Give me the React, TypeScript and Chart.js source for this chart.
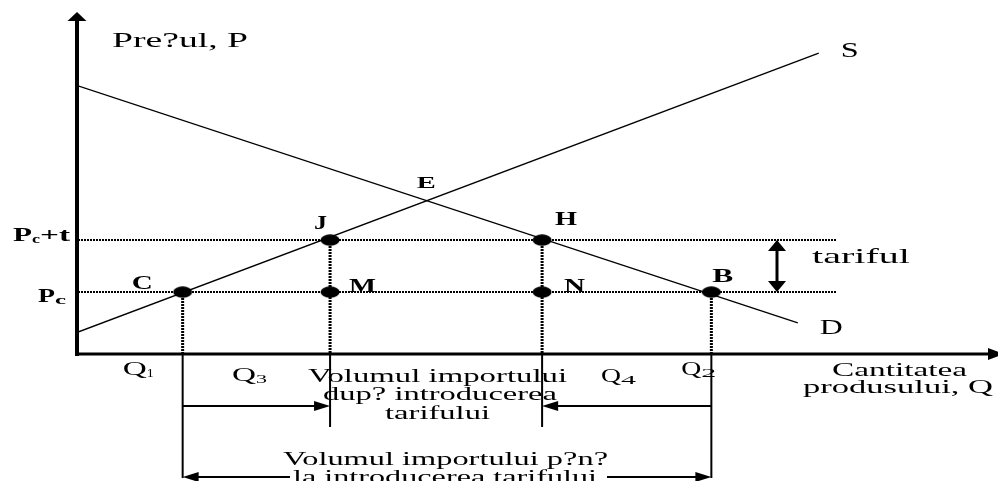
import React, { useEffect, useRef } from "react";
import { Chart, registerables } from "chart.js";

Chart.register(...registerables);

// Supply (S) and demand (D) schedules: quantity / price pairs
const supplyQ = [0, 81.4];
const supplyP = [6.4, 88.0];
const demandQ = [0, 79.1];
const demandP = [78.4, 9.1];

// World price Pc and the price with the tariff Pc + t
const priceLevels = [18.1, 33.3];
const priceEnd = 83.3;

// Quantities Q1, Q3, Q4, Q2 and the price each drop line starts from
const qLevels = [11.5, 27.7, 51.0, 69.6];
const qSubs = ["1", "3", "4", "2"];
const qDropFrom = [18.1, 33.3, 33.3, 18.1];

// Marked points
const pointNames = ["C", "J", "M", "H", "N", "B"];
const pointQ = [11.5, 27.7, 27.7, 51.0, 51.0, 69.6];
const pointP = [18.1, 33.3, 18.1, 33.3, 18.1, 18.1];

const FONT = '"Liberation Serif", "Times New Roman", serif';

function makeDot(): HTMLCanvasElement {
  const c = document.createElement("canvas");
  c.width = 20;
  c.height = 12;
  const g = c.getContext("2d")!;
  g.fillStyle = "#000";
  g.beginPath();
  g.ellipse(10, 6, 9.5, 5.7, 0, 0, Math.PI * 2);
  g.fill();
  return c;
}

function drawText(
  ctx: CanvasRenderingContext2D,
  s: string,
  x: number,
  y: number,
  size: number,
  width: number,
  bold = false
) {
  ctx.save();
  ctx.font = `${bold ? "bold " : ""}${size}px ${FONT}`;
  ctx.textAlign = "left";
  ctx.textBaseline = "alphabetic";
  const m = ctx.measureText(s).width || 1;
  ctx.translate(x, y);
  ctx.scale(width / m, 1);
  ctx.fillStyle = "#000";
  ctx.fillText(s, 0, 0);
  ctx.restore();
}

function head(
  ctx: CanvasRenderingContext2D,
  tx: number,
  ty: number,
  dx: number,
  dy: number,
  len: number,
  half: number
) {
  // dx, dy: unit direction the arrow points to
  const bx = tx - dx * len;
  const by = ty - dy * len;
  ctx.beginPath();
  ctx.moveTo(tx, ty);
  ctx.lineTo(bx - dy * half, by + dx * half);
  ctx.lineTo(bx + dy * half, by - dx * half);
  ctx.closePath();
  ctx.fill();
}

function line(ctx: CanvasRenderingContext2D, x1: number, y1: number, x2: number, y2: number, w: number) {
  ctx.lineWidth = w;
  ctx.beginPath();
  ctx.moveTo(x1, y1);
  ctx.lineTo(x2, y2);
  ctx.stroke();
}

// Label offsets from their points (pixels) and fitted widths
const pointLabelStyle: Record<string, [number, number, number]> = {
  C: [-51, -3, 21],
  J: [-16, -11, 13],
  M: [19, 0, 27],
  H: [13, -15, 22],
  N: [22, 0, 21],
  B: [1, -10, 21],
};
const qLabelStyle = [
  [-60, 21, 24, 7],
  [-98, 27, 24, 11],
  [59, 28, 20, 15],
  [-30, 21, 20, 15],
];

const diagramPlugin = {
  id: "diagram",
  afterDatasetsDraw(chart: Chart) {
    const ctx = chart.ctx;
    const xs = chart.scales.x;
    const ys = chart.scales.y;
    const a = chart.chartArea;
    ctx.save();
    ctx.strokeStyle = "#000";
    ctx.fillStyle = "#000";
    ctx.lineCap = "butt";

    // Axes with arrows
    const x0 = a.left - 1;
    const y0 = a.bottom;
    line(ctx, x0, y0 + 2, x0, a.top + 8, 4);
    head(ctx, x0, a.top, 0, -1, 9, 9.5);
    line(ctx, x0 - 2, y0, 990, y0, 3);
    head(ctx, 1004, y0, 1, 0, 16, 6);

    // Brackets below the quantity axis
    const px = qLevels.map((q) => xs.getPixelForValue(q));
    line(ctx, px[0], y0, px[0], y0 + 124, 2);
    line(ctx, px[1], y0, px[1], y0 + 73, 2);
    line(ctx, px[2], y0, px[2], y0 + 73, 2);
    line(ctx, px[3], y0, px[3], y0 + 124, 2);
    const ya = y0 + 52;
    line(ctx, px[0], ya, px[1] - 14, ya, 2);
    head(ctx, px[1], ya, 1, 0, 16, 5);
    line(ctx, px[3], ya, px[2] + 14, ya, 2);
    head(ctx, px[2], ya, -1, 0, 16, 5);
    const yb = y0 + 123;
    line(ctx, 290, yb, px[0] + 14, yb, 2);
    head(ctx, px[0], yb, -1, 0, 16, 5);
    line(ctx, 607, yb, px[3] - 14, yb, 2);
    head(ctx, px[3], yb, 1, 0, 16, 5);

    // Tariff double arrow
    const yLo = ys.getPixelForValue(priceLevels[0]);
    const yHi = ys.getPixelForValue(priceLevels[1]);
    line(ctx, 777, yHi + 8, 777, yLo - 8, 3);
    head(ctx, 777, yHi, 0, -1, 11, 9);
    head(ctx, 777, yLo, 0, 1, 11, 9);

    // Point labels
    pointNames.forEach((n, i) => {
      const [dx, dy, w] = pointLabelStyle[n];
      const x = xs.getPixelForValue(pointQ[i]);
      const y = ys.getPixelForValue(pointP[i]);
      drawText(ctx, n, x + dx, y + dy, 18, w, true);
    });

    // Equilibrium E at the S / D intersection
    const bs = (supplyP[1] - supplyP[0]) / (supplyQ[1] - supplyQ[0]);
    const bd = (demandP[1] - demandP[0]) / (demandQ[1] - demandQ[0]);
    const qe = (demandP[0] - supplyP[0]) / (bs - bd);
    const pe = supplyP[0] + bs * qe;
    drawText(ctx, "E", xs.getPixelForValue(qe) - 10, ys.getPixelForValue(pe) - 13, 17, 19, true);

    // Curve names
    drawText(ctx, "S", xs.getPixelForValue(supplyQ[1]) + 22, ys.getPixelForValue(supplyP[1]) + 4, 21, 18);
    drawText(ctx, "D", xs.getPixelForValue(demandQ[1]) + 22, ys.getPixelForValue(demandP[1]) + 11, 20, 23);
    drawText(ctx, "tariful", 812, (yHi + yLo) / 2 - 3, 21, 98);

    // Price labels
    drawText(ctx, "P", 13, yHi + 1, 18, 19, true);
    drawText(ctx, "c", 32, yHi + 3, 13, 8, true);
    drawText(ctx, "+t", 40, yHi + 1, 18, 30, true);
    drawText(ctx, "P", 38, yLo + 10, 18, 17, true);
    drawText(ctx, "c", 55, yLo + 12, 13, 11, true);

    // Quantity labels
    qSubs.forEach((s, i) => {
      const [dx, dy, wq, ws] = qLabelStyle[i];
      drawText(ctx, "Q", px[i] + dx, y0 + dy, 19, wq);
      drawText(ctx, s, px[i] + dx + wq, y0 + dy + 2, 13, ws);
    });

    // Axis titles and notes
    drawText(ctx, "Pre?ul, P", 112, 47, 21, 136);
    drawText(ctx, "Cantitatea", 832, 376, 19, 135);
    drawText(ctx, "produsului, Q", 803, 393, 19, 190);
    drawText(ctx, "Volumul importului", 308, 382, 18, 259);
    drawText(ctx, "dup? introducerea", 323, 400, 18, 234);
    drawText(ctx, "tarifului", 385, 419, 18, 105);
    drawText(ctx, "Volumul importului p?n?", 283, 465, 18, 325);
    drawText(ctx, "la introducerea tarifului", 293, 483, 18, 304);

    ctx.restore();
  },
};

export default function App() {
  const ref = useRef<HTMLCanvasElement | null>(null);

  useEffect(() => {
    if (!ref.current) return;
    const dot = makeDot();
    const base = { pointRadius: 0, pointHoverRadius: 0, borderColor: "#000", fill: false, tension: 0 };

    const datasets: any[] = [
      {
        ...base,
        label: "S",
        data: supplyQ.map((q, i) => ({ x: q, y: supplyP[i] })),
        borderWidth: 1.4,
      },
      {
        ...base,
        label: "D",
        data: demandQ.map((q, i) => ({ x: q, y: demandP[i] })),
        borderWidth: 1.4,
      },
      ...priceLevels.map((p, i) => ({
        ...base,
        label: i === 0 ? "Pc" : "Pc+t",
        data: [
          { x: 0, y: p },
          { x: priceEnd, y: p },
        ],
        borderWidth: 2,
        borderDash: [2, 1],
      })),
      ...qLevels.map((q, i) => ({
        ...base,
        label: "Q" + qSubs[i],
        data: [
          { x: q, y: qDropFrom[i] },
          { x: q, y: 0 },
        ],
        borderWidth: 3,
        borderDash: [2, 1],
      })),
      {
        label: "points",
        data: pointQ.map((q, i) => ({ x: q, y: pointP[i] })),
        showLine: false,
        pointStyle: dot,
        pointRadius: 9,
        backgroundColor: "#000",
        borderColor: "#000",
      },
    ];

    const chart = new Chart(ref.current, {
      type: "line",
      data: { datasets },
      options: {
        animation: false,
        responsive: false,
        devicePixelRatio: 1,
        layout: { padding: { left: 78, right: 8, top: 12, bottom: 127 } },
        plugins: { legend: { display: false }, tooltip: { enabled: false }, title: { display: false } },
        events: [],
        scales: {
          x: { type: "linear", min: 0, max: 100, display: false },
          y: { type: "linear", min: 0, max: 100, display: false },
        },
      },
      plugins: [diagramPlugin],
    });
    return () => chart.destroy();
  }, []);

  return (
    <div style={{ position: "absolute", left: 0, top: 0, width: 998, height: 481, background: "#fff" }}>
      <canvas ref={ref} width={998} height={481} style={{ display: "block" }} />
    </div>
  );
}
